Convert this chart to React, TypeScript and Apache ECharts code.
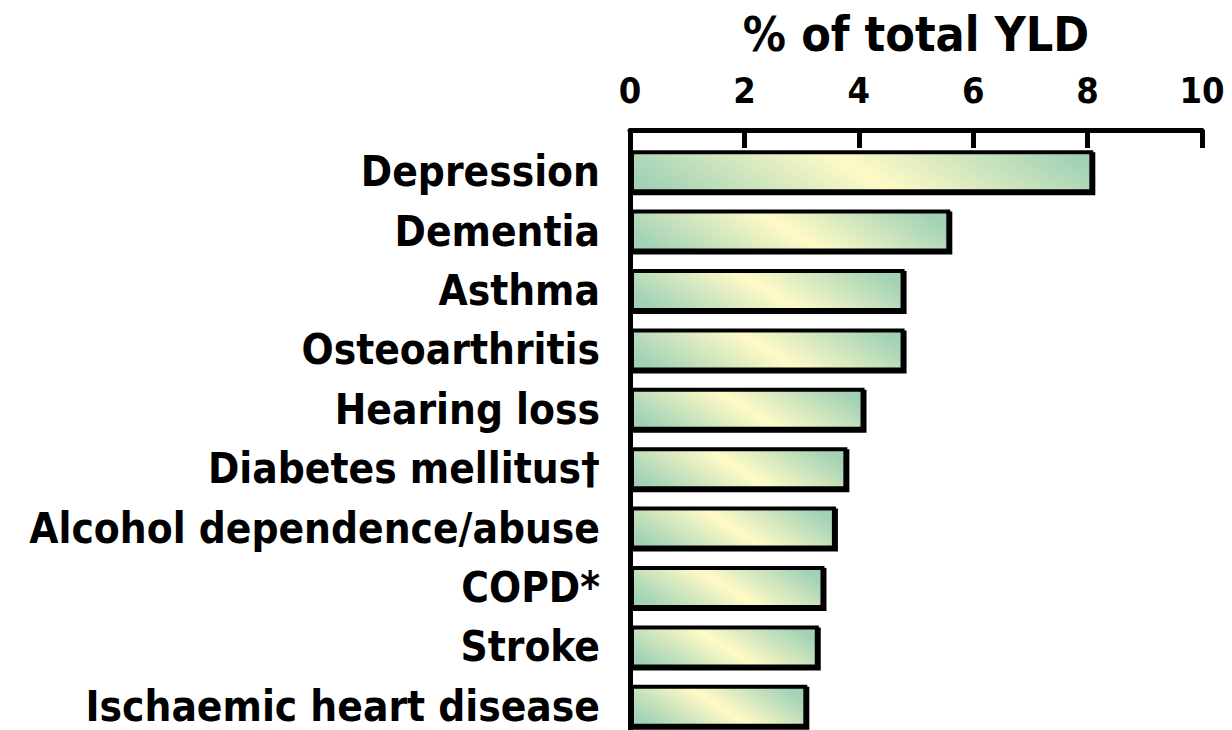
import React, { useEffect, useRef } from "react";
import * as echarts from "echarts";

const categories = [
  "Depression",
  "Dementia",
  "Asthma",
  "Osteoarthritis",
  "Hearing loss",
  "Diabetes mellitus†",
  "Alcohol dependence/abuse",
  "COPD*",
  "Stroke",
  "Ischaemic heart disease",
];
const values = [8.1, 5.6, 4.8, 4.8, 4.1, 3.8, 3.6, 3.4, 3.3, 3.1];
const xTicks = [0, 2, 4, 6, 8, 10];
const axisTitle = "% of total YLD";

const GREEN = "#a2d2b6";
const YELLOW = "#fffac6";

export default function App() {
  const ref = useRef<HTMLDivElement>(null);
  useEffect(() => {
    if (!ref.current) return;
    const chart = echarts.init(ref.current, undefined, { renderer: "svg" });
    const font = "DejaVu Sans Condensed";
    chart.setOption({
      animation: false,
      backgroundColor: "#ffffff",
      grid: { left: 630, right: 30, top: 142, height: 594, outerBoundsMode: "none", containLabel: false },
      xAxis: {
        type: "value",
        position: "top",
        min: 0,
        max: 10,
        interval: 2,
        offset: 12,
        name: axisTitle,
        nameLocation: "middle",
        nameGap: 72,
        nameTextStyle: { fontFamily: font, fontSize: 48, fontWeight: "bold", color: "#000" },
        axisLine: { show: true, lineStyle: { color: "#000", width: 5 } },
        axisTick: { show: true, inside: true, length: 18, lineStyle: { color: "#000", width: 5 } },
        axisLabel: {
          margin: 22,
          fontFamily: font,
          fontSize: 36,
          fontWeight: "bold",
          color: "#000",
          formatter: (v: number) => (xTicks.includes(v) ? String(v) : ""),
        },
        splitLine: { show: false },
      },
      yAxis: {
        type: "category",
        inverse: true,
        data: categories,
        axisLine: { show: true, lineStyle: { color: "#000", width: 5 } },
        axisTick: { show: false },
        axisLabel: {
          margin: 30,
          fontFamily: font,
          fontSize: 42,
          lineHeight: 38,
          fontWeight: "bold",
          color: "#000",
        },
      },
      series: [
        {
          type: "bar",
          data: values,
          barWidth: 43,
          itemStyle: {
            borderColor: "#000",
            borderWidth: 4,
            shadowColor: "#000",
            shadowBlur: 0,
            shadowOffsetX: 2,
            shadowOffsetY: 2,
            color: (p: any) => {
              const w = (p.value as number) * 57.2;
              const k = 62 / w;
              return new echarts.graphic.LinearGradient(0, 0.5 + k / 2, 1, 0.5 - k / 2, [
                { offset: 0, color: GREEN },
                { offset: 0.5, color: YELLOW },
                { offset: 1, color: GREEN },
              ]);
            },
          },
        },
      ],
    });
    return () => chart.dispose();
  }, []);
  return (
    <div
      ref={ref}
      style={{ position: "fixed", left: 0, top: 0, width: 1232, height: 730 }}
    />
  );
}
